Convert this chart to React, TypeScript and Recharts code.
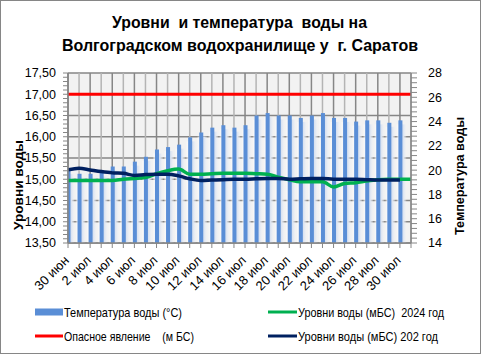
import React from 'react';
import { ComposedChart, Bar, Line, XAxis, YAxis, CartesianGrid } from 'recharts';

const dates = [
  '30 июн', '1 июл', '2 июл', '3 июл', '4 июл', '5 июл', '6 июл', '7 июл', '8 июл', '9 июл',
  '10 июл', '11 июл', '12 июл', '13 июл', '14 июл', '15 июл', '16 июл', '17 июл', '18 июл', '19 июл',
  '20 июл', '21 июл', '22 июл', '23 июл', '24 июл', '25 июл', '26 июл', '27 июл', '28 июл', '29 июл',
  '30 июл', '31 июл',
];

const temperature = [
  20.0, 19.7, 19.7, 19.8, 20.3, 20.3, 20.7, 21.1, 21.7, 21.9,
  22.1, 22.7, 23.1, 23.5, 23.7, 23.5, 23.7, 24.5, 24.7, 24.5,
  24.5, 24.3, 24.5, 24.7, 24.3, 24.3, 24.0, 24.1, 24.1, 23.9,
  24.1, null,
];

const level2024 = [
  14.97, 14.97, 14.97, 14.97, 14.97, 15.0, 15.02, 15.04, 15.13, 15.2,
  15.24, 15.12, 15.12, 15.13, 15.14, 15.14, 15.14, 15.13, 15.12, 15.05,
  14.99, 14.94, 14.94, 14.94, 14.82, 14.9, 14.92, 14.96, 14.99, 15.0,
  15.0, 15.0,
];

const dangerLevel = [
  17, 17, 17, 17, 17, 17, 17, 17, 17, 17,
  17, 17, 17, 17, 17, 17, 17, 17, 17, 17,
  17, 17, 17, 17, 17, 17, 17, 17, 17, 17,
  17, 17,
];

const levelPrev = [
  15.22, 15.26, 15.22, 15.18, 15.15, 15.14, 15.09, 15.11, 15.12, 15.12,
  15.08, 15.01, 14.97, 14.98, 14.99, 15.0, 15.0, 15.01, 15.02, 15.02,
  15.0, 15.01, 15.02, 15.02, 15.0, 15.0, 15.0, 14.99, 14.98, 14.98,
  14.98, null,
];

const leftMajorTicks = [13.5, 14.0, 14.5, 15.0, 15.5, 16.0, 16.5, 17.0, 17.5];
const rightMajorTicks = [14, 16, 18, 20, 22, 24, 26, 28];

const seriesNames = [
  'Температура воды (°С)',
  'Уровни воды (мБС)  2024 год',
  'Опасное явление    (м БС)',
  'Уровни воды (мБС) 202 год',
];

const title1 = 'Уровни  и температура  воды на';
const title2 = 'Волгоградском водохранилище у  г. Саратов';
const leftTitle = 'Уровни воды';
const rightTitle = 'Температура воды';

const rows = dates.map((d, i) => ({
  i,
  date: d,
  temp: temperature[i],
  l2024: level2024[i],
  danger: dangerLevel[i],
  lprev: levelPrev[i],
}));

function minorTicks(majors: number[]) {
  const out: number[] = [];
  for (let k = 0; k < majors.length - 1; k++) {
    const a = majors[k];
    const b = majors[k + 1];
    for (let j = 0; j < 5; j++) out.push(+(a + ((b - a) * j) / 5).toFixed(3));
  }
  out.push(majors[majors.length - 1]);
  return out;
}

const leftTicks = minorTicks(leftMajorTicks);
const rightTicks = minorTicks(rightMajorTicks);
const xTicks = dates.map((_, i) => i);
const evenX = xTicks.filter((i) => i % 2 === 0);
const oddX = xTicks.filter((i) => i % 2 === 1);

const FONT = '"Liberation Sans", Arial, sans-serif';
const AX = '#868686';
const BLUE = '#5a8ed6';

const isMajor = (v: number, list: number[]) => list.some((m) => Math.abs(m - v) < 1e-6);

const LeftTick = (props: any) => {
  const { x, y, payload } = props;
  const v = payload.value as number;
  if (!isMajor(v, leftMajorTicks)) return <g />;
  return (
    <text x={x} y={y} dy="0.35em" textAnchor="end" fontSize={12.5} fontFamily={FONT} fill="#000">
      {v.toFixed(2).replace('.', ',')}
    </text>
  );
};

const RightTick = (props: any) => {
  const { x, y, payload } = props;
  const v = payload.value as number;
  if (!isMajor(v, rightMajorTicks)) return <g />;
  return (
    <text x={x} y={y} dy="0.35em" textAnchor="start" fontSize={12.5} fontFamily={FONT} fill="#000">
      {String(v)}
    </text>
  );
};

const XTick = (props: any) => {
  const { x, y, payload } = props;
  const i = payload.value as number;
  if (i % 2 !== 0) return <g />;
  return (
    <text
      transform={`translate(${x - 1.5},${y + 8}) rotate(-45)`}
      textAnchor="end"
      dy="0.35em"
      fontSize={13}
      fontFamily={FONT}
      fill="#000"
    >
      {dates[i]}
    </text>
  );
};

const BarShape = (props: any) => {
  const { x, y, width, height } = props;
  if (height == null || isNaN(height) || height <= 0) return <g />;
  const cx = x + width / 2;
  return (
    <g>
      <rect x={cx - 4} y={y + 4} width={10} height={Math.max(0, height - 4)} fill="url(#barGlow)" />
      <rect x={cx - 2} y={y} width={4} height={height} fill={BLUE} />
    </g>
  );
};

export default function App() {
  return (
    <div style={{ position: 'fixed', left: 0, top: 0, width: 481, height: 354, background: '#fff' }}>
      <svg width={0} height={0} style={{ position: 'absolute' }}>
        <defs>
          <linearGradient id="barGlow" x1="0" y1="0" x2="1" y2="0">
            <stop offset="0%" stopColor="#ffffff" stopOpacity={0.2} />
            <stop offset="25%" stopColor="#f8f9fb" stopOpacity={0.9} />
            <stop offset="45%" stopColor="#cfdbee" stopOpacity={1} />
            <stop offset="70%" stopColor="#dce4f1" stopOpacity={1} />
            <stop offset="100%" stopColor="#eef1f6" stopOpacity={0.2} />
          </linearGradient>
        </defs>
      </svg>
      <ComposedChart
        width={481}
        height={354}
        data={rows}
        margin={{ top: 73, right: 0, bottom: 0, left: 0 }}
        style={{ position: 'absolute', left: 0, top: 0 }}
      >
        <CartesianGrid
          fill="#f2f2f2"
          stroke={AX}
          strokeWidth={1.5}
          horizontalValues={leftMajorTicks}
          verticalValues={evenX}
        />
        <CartesianGrid horizontal={false} stroke="#b4b4b4" strokeWidth={1.5} verticalValues={oddX} />
        <XAxis
          dataKey="i"
          type="number"
          domain={[0, dates.length - 1]}
          ticks={xTicks}
          interval={0}
          allowDataOverflow
          height={111}
          tickSize={5}
          axisLine={{ stroke: AX, strokeWidth: 1.5 }}
          tickLine={{ stroke: AX }}
          tick={(p: any) => <XTick {...p} />}
        />
        <YAxis
          type="number"
          domain={[13.5, 17.5]}
          ticks={leftTicks}
          interval={0}
          width={68}
          tickSize={5}
          tickMargin={7}
          axisLine={{ stroke: AX, strokeWidth: 1.5 }}
          tickLine={{ stroke: AX }}
          tick={(p: any) => <LeftTick {...p} />}
        />
        <YAxis
          yAxisId="r"
          orientation="right"
          type="number"
          domain={[14, 28]}
          ticks={rightTicks}
          interval={0}
          width={70}
          tickSize={6}
          tickMargin={11}
          axisLine={{ stroke: AX, strokeWidth: 1.5 }}
          tickLine={{ stroke: AX }}
          tick={(p: any) => <RightTick {...p} />}
        />
        <Bar yAxisId="r" dataKey="temp" barSize={10} shape={(p: any) => <BarShape {...p} />} isAnimationActive={false} />
        <Line dataKey="l2024" type="monotone" stroke="#00b050" strokeWidth={3.5} dot={false} isAnimationActive={false} />
        <Line dataKey="danger" type="linear" stroke="#ff0000" strokeWidth={3} dot={false} isAnimationActive={false} />
        <Line dataKey="lprev" type="monotone" stroke="#002060" strokeWidth={3.5} dot={false} connectNulls={false} isAnimationActive={false} />
      </ComposedChart>
      <svg width={481} height={354} style={{ position: 'absolute', left: 0, top: 0, pointerEvents: 'none' }}>
        <rect x={0.5} y={0.5} width={480} height={353} fill="none" stroke={AX} strokeWidth={1} />
        <text x={239.5} y={28} textAnchor="middle" fontSize={17} fontWeight="bold" fontFamily={FONT} textLength={255} lengthAdjust="spacingAndGlyphs" style={{ whiteSpace: 'pre' }}>
          {title1}
        </text>
        <text x={240} y={51} textAnchor="middle" fontSize={17} fontWeight="bold" fontFamily={FONT} textLength={356} lengthAdjust="spacingAndGlyphs" style={{ whiteSpace: 'pre' }}>
          {title2}
        </text>
        <text transform="translate(18,185) rotate(-90)" textAnchor="middle" dy="0.35em" fontSize={13.5} fontWeight="bold" fontFamily={FONT} textLength={90} lengthAdjust="spacingAndGlyphs">
          {leftTitle}
        </text>
        <text transform="translate(459,176) rotate(-90)" textAnchor="middle" dy="0.35em" fontSize={13.5} fontWeight="bold" fontFamily={FONT} textLength={118} lengthAdjust="spacingAndGlyphs">
          {rightTitle}
        </text>
        <rect x={35} y={308.5} width={28} height={7} fill={BLUE} />
        <line x1={268} x2={297} y1={312} y2={312} stroke="#00b050" strokeWidth={3} />
        <line x1={35} x2={63} y1={336} y2={336} stroke="#ff0000" strokeWidth={3} />
        <line x1={268} x2={297} y1={336} y2={336} stroke="#002060" strokeWidth={3} />
        <text x={64} y={312} dy="0.35em" fontSize={13} fontFamily={FONT} textLength={118} lengthAdjust="spacingAndGlyphs" style={{ whiteSpace: 'pre' }}>
          {seriesNames[0]}
        </text>
        <text x={298} y={312} dy="0.35em" fontSize={13} fontFamily={FONT} textLength={146} lengthAdjust="spacingAndGlyphs" style={{ whiteSpace: 'pre' }}>
          {seriesNames[1]}
        </text>
        <text x={64} y={336} dy="0.35em" fontSize={13} fontFamily={FONT} textLength={130} lengthAdjust="spacingAndGlyphs" style={{ whiteSpace: 'pre' }}>
          {seriesNames[2]}
        </text>
        <text x={298} y={336} dy="0.35em" fontSize={13} fontFamily={FONT} textLength={140} lengthAdjust="spacingAndGlyphs" style={{ whiteSpace: 'pre' }}>
          {seriesNames[3]}
        </text>
      </svg>
    </div>
  );
}
